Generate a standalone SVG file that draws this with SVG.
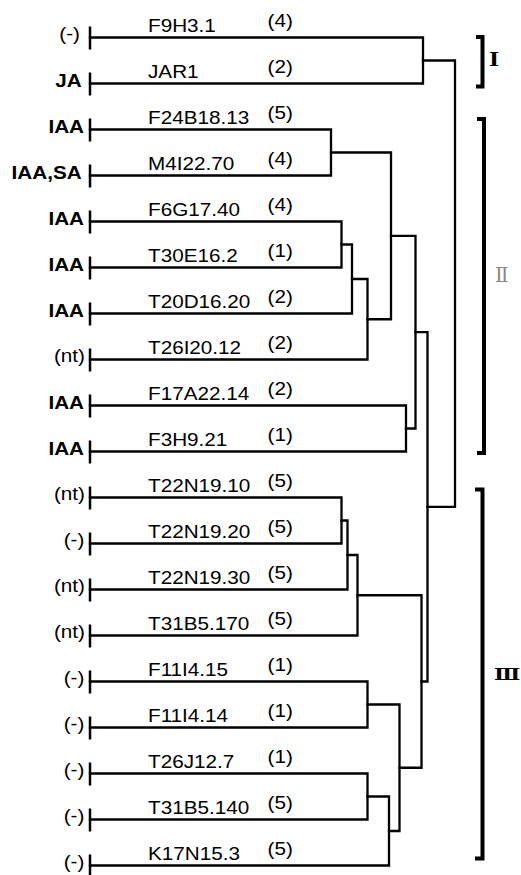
<svg xmlns="http://www.w3.org/2000/svg" width="521" height="875" viewBox="0 0 521 875">
<style>
  .t { font-family: "Liberation Sans", Arial, sans-serif; font-size: 18px; fill: #000; }
  .b { font-weight: bold; }
  .e { text-anchor: end; }
  .tick { stroke: #000; stroke-width: 2.5; }
  .br { fill: none; stroke: #000; stroke-width: 2.3; stroke-linejoin: miter; stroke-linecap: square; }
  .brk { fill: none; stroke: #000; stroke-width: 4; stroke-linejoin: miter; }
  .rn { font-family: "DejaVu Serif", "Liberation Serif", serif; fill: #000; }
</style>
<rect width="521" height="875" fill="#fff"/>

<g id="connectors">
  <path class="br" d="M90,37.5 H423 V83.5 H90"/>
  <path class="br" d="M90,129.5 H331 V175.5 H90"/>
  <path class="br" d="M90,221.5 H341.5 V267.5 H90"/>
  <path class="br" d="M341.5,244.5 H352 V313.5 H90"/>
  <path class="br" d="M352,279 H367.5 V359.5 H90"/>
  <path class="br" d="M331,152.5 H391 V319.25 H367.5"/>
  <path class="br" d="M90,405.5 H406 V451.5 H90"/>
  <path class="br" d="M391,235.9 H415.5 V428.5 H406"/>
  <path class="br" d="M90,497.5 H341.5 V543.5 H90"/>
  <path class="br" d="M341.5,520.5 H347.5 V589.5 H90"/>
  <path class="br" d="M347.5,555 H357.5 V635.5 H90"/>
  <path class="br" d="M90,681.5 H367.5 V727.5 H90"/>
  <path class="br" d="M90,773.5 H367.5 V819.5 H90"/>
  <path class="br" d="M367.5,796.5 H389 V865.5 H90"/>
  <path class="br" d="M367.5,704.5 H399.5 V831 H389"/>
  <path class="br" d="M357.5,595.25 H421.5 V767.75 H399.5"/>
  <path class="br" d="M415.5,332.2 H427.5 V681.5 H421.5"/>
  <path class="br" d="M423,60.5 H455 V506.9 H427.5"/>
</g>

<g id="leaf1"><line class="tick" x1="90" y1="26.5" x2="90" y2="49.5"/>
  <text class="t e" transform="translate(80,39.5) scale(1.15,1)">(-)</text>
  <text class="t" transform="translate(148,31.5) scale(1.15,1)">F9H3.1</text>
  <text class="t" transform="translate(267.5,27) scale(1.15,1)">(4)</text></g>
<g id="leaf2"><line class="tick" x1="90" y1="72.5" x2="90" y2="95.5"/>
  <text class="t b e" transform="translate(81.7,87) scale(1.15,1)">JA</text>
  <text class="t" transform="translate(148,77.5) scale(1.15,1)">JAR1</text>
  <text class="t" transform="translate(267.5,73) scale(1.15,1)">(2)</text></g>
<g id="leaf3"><line class="tick" x1="90" y1="118.5" x2="90" y2="141.5"/>
  <text class="t b e" transform="translate(84,133) scale(1.15,1)">IAA</text>
  <text class="t" transform="translate(148,123.5) scale(1.15,1)">F24B18.13</text>
  <text class="t" transform="translate(267.5,119) scale(1.15,1)">(5)</text></g>
<g id="leaf4"><line class="tick" x1="90" y1="164.5" x2="90" y2="187.5"/>
  <text class="t b e" transform="translate(81.7,179) scale(1.15,1)">IAA,SA</text>
  <text class="t" transform="translate(148,169.5) scale(1.15,1)">M4I22.70</text>
  <text class="t" transform="translate(267.5,165) scale(1.15,1)">(4)</text></g>
<g id="leaf5"><line class="tick" x1="90" y1="210.5" x2="90" y2="233.5"/>
  <text class="t b e" transform="translate(84,225) scale(1.15,1)">IAA</text>
  <text class="t" transform="translate(148,215.5) scale(1.15,1)">F6G17.40</text>
  <text class="t" transform="translate(267.5,211) scale(1.15,1)">(4)</text></g>
<g id="leaf6"><line class="tick" x1="90" y1="256.5" x2="90" y2="279.5"/>
  <text class="t b e" transform="translate(84,271) scale(1.15,1)">IAA</text>
  <text class="t" transform="translate(148,261.5) scale(1.15,1)">T30E16.2</text>
  <text class="t" transform="translate(267.5,257) scale(1.15,1)">(1)</text></g>
<g id="leaf7"><line class="tick" x1="90" y1="302.5" x2="90" y2="325.5"/>
  <text class="t b e" transform="translate(84,317) scale(1.15,1)">IAA</text>
  <text class="t" transform="translate(148,307.5) scale(1.15,1)">T20D16.20</text>
  <text class="t" transform="translate(267.5,303) scale(1.15,1)">(2)</text></g>
<g id="leaf8"><line class="tick" x1="90" y1="348.5" x2="90" y2="371.5"/>
  <text class="t e" transform="translate(85,362) scale(1.15,1)">(nt)</text>
  <text class="t" transform="translate(148,353.5) scale(1.15,1)">T26I20.12</text>
  <text class="t" transform="translate(267.5,349) scale(1.15,1)">(2)</text></g>
<g id="leaf9"><line class="tick" x1="90" y1="394.5" x2="90" y2="417.5"/>
  <text class="t b e" transform="translate(84,409) scale(1.15,1)">IAA</text>
  <text class="t" transform="translate(148,399.5) scale(1.15,1)">F17A22.14</text>
  <text class="t" transform="translate(267.5,395) scale(1.15,1)">(2)</text></g>
<g id="leaf10"><line class="tick" x1="90" y1="440.5" x2="90" y2="463.5"/>
  <text class="t b e" transform="translate(84,455) scale(1.15,1)">IAA</text>
  <text class="t" transform="translate(148,445.5) scale(1.15,1)">F3H9.21</text>
  <text class="t" transform="translate(267.5,441) scale(1.15,1)">(1)</text></g>
<g id="leaf11"><line class="tick" x1="90" y1="486.5" x2="90" y2="509.5"/>
  <text class="t e" transform="translate(85,500) scale(1.15,1)">(nt)</text>
  <text class="t" transform="translate(148,491.5) scale(1.15,1)">T22N19.10</text>
  <text class="t" transform="translate(267.5,487) scale(1.15,1)">(5)</text></g>
<g id="leaf12"><line class="tick" x1="90" y1="532.5" x2="90" y2="555.5"/>
  <text class="t e" transform="translate(84.3,546) scale(1.15,1)">(-)</text>
  <text class="t" transform="translate(148,537.5) scale(1.15,1)">T22N19.20</text>
  <text class="t" transform="translate(267.5,533) scale(1.15,1)">(5)</text></g>
<g id="leaf13"><line class="tick" x1="90" y1="578.5" x2="90" y2="601.5"/>
  <text class="t e" transform="translate(85,592) scale(1.15,1)">(nt)</text>
  <text class="t" transform="translate(148,583.5) scale(1.15,1)">T22N19.30</text>
  <text class="t" transform="translate(267.5,579) scale(1.15,1)">(5)</text></g>
<g id="leaf14"><line class="tick" x1="90" y1="624.5" x2="90" y2="647.5"/>
  <text class="t e" transform="translate(85,638) scale(1.15,1)">(nt)</text>
  <text class="t" transform="translate(148,629.5) scale(1.15,1)">T31B5.170</text>
  <text class="t" transform="translate(267.5,625) scale(1.15,1)">(5)</text></g>
<g id="leaf15"><line class="tick" x1="90" y1="670.5" x2="90" y2="693.5"/>
  <text class="t e" transform="translate(84.3,684) scale(1.15,1)">(-)</text>
  <text class="t" transform="translate(148,675.5) scale(1.15,1)">F11I4.15</text>
  <text class="t" transform="translate(267.5,671) scale(1.15,1)">(1)</text></g>
<g id="leaf16"><line class="tick" x1="90" y1="716.5" x2="90" y2="739.5"/>
  <text class="t e" transform="translate(84.3,730) scale(1.15,1)">(-)</text>
  <text class="t" transform="translate(148,721.5) scale(1.15,1)">F11I4.14</text>
  <text class="t" transform="translate(267.5,717) scale(1.15,1)">(1)</text></g>
<g id="leaf17"><line class="tick" x1="90" y1="762.5" x2="90" y2="785.5"/>
  <text class="t e" transform="translate(84.3,776) scale(1.15,1)">(-)</text>
  <text class="t" transform="translate(148,767.5) scale(1.15,1)">T26J12.7</text>
  <text class="t" transform="translate(267.5,763) scale(1.15,1)">(1)</text></g>
<g id="leaf18"><line class="tick" x1="90" y1="808.5" x2="90" y2="831.5"/>
  <text class="t e" transform="translate(84.3,822) scale(1.15,1)">(-)</text>
  <text class="t" transform="translate(148,813.5) scale(1.15,1)">T31B5.140</text>
  <text class="t" transform="translate(267.5,809) scale(1.15,1)">(5)</text></g>
<g id="leaf19"><line class="tick" x1="90" y1="854.5" x2="90" y2="877.5"/>
  <text class="t e" transform="translate(84.3,868) scale(1.15,1)">(-)</text>
  <text class="t" transform="translate(148,859.5) scale(1.15,1)">K17N15.3</text>
  <text class="t" transform="translate(267.5,855) scale(1.15,1)">(5)</text></g>

<g id="clade1">
  <path class="brk" d="M476,37 H482.5 V86.5 H476"/>
  <text class="rn" transform="translate(489,66) scale(1.2,1)" font-size="18" style="font-weight:bold">Ⅰ</text>
</g>
<g id="clade2">
  <path class="brk" d="M477,119 H484 V453 H477"/>
  <text class="rn" x="495" y="282" font-size="20" style="fill:#8a8a8a">Ⅱ</text>
</g>
<g id="clade3">
  <path class="brk" d="M475,489.5 H482.5 V858.5 H475"/>
  <text class="rn" transform="translate(494,680) scale(1.35,1)" font-size="16" style="font-weight:bold">Ⅲ</text>
</g>
</svg>
